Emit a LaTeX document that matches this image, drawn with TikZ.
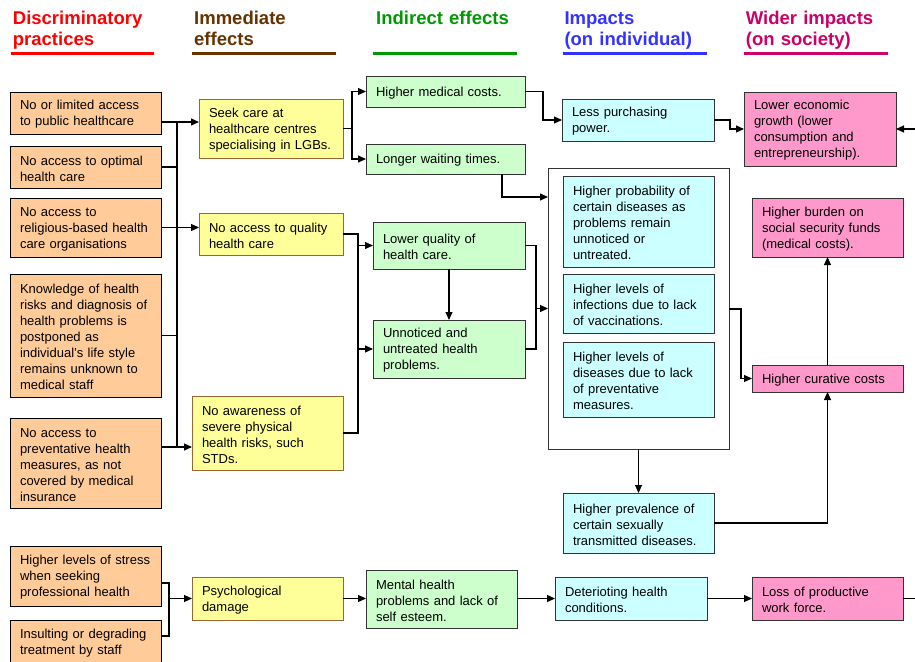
\documentclass[tikz,border=0pt]{standalone}
\usepackage{fontspec}
\setmainfont{Liberation Sans}
\usetikzlibrary{arrows.meta}
\definecolor{cOr}{HTML}{FFCC99}
\definecolor{cYe}{HTML}{FFFF99}
\definecolor{cGr}{HTML}{CCFFCC}
\definecolor{cCy}{HTML}{CCFFFF}
\definecolor{cPk}{HTML}{FF99CC}
\definecolor{cYeB}{HTML}{996633}
\definecolor{cBd}{HTML}{333333}
\definecolor{hRed}{HTML}{FF0000}
\definecolor{hBrown}{HTML}{663300}
\definecolor{hGreen}{HTML}{009900}
\definecolor{hBlue}{HTML}{3333FF}
\definecolor{hMag}{HTML}{CC0066}
\tikzset{
  box/.style={draw=cBd, line width=1pt, inner xsep=10pt, inner ysep=0pt, outer sep=0pt,
    align=left, anchor=north west, font=\fontsize{13}{16}\selectfont, text=black,
    execute at begin node={\rule{0pt}{12.6pt}}},
  orb/.style={box, fill=cOr, draw=black},
  yeb/.style={box, fill=cYe, draw=cYeB},
  grb/.style={box, fill=cGr},
  cyb/.style={box, fill=cCy},
  pkb/.style={box, fill=cPk},
  hdr/.style={anchor=base west, inner sep=0pt, text width=220pt, align=left,
    font=\bfseries\fontsize{18.5}{21}\selectfont},
  uline/.style={line width=3.3pt},
  conn/.style={line width=1.1pt, black},
  arr/.style={conn, -{Triangle[length=8pt,width=7pt]}},
}
\newcommand\bx[7]{\node[#2, text width=#5pt, minimum height=#6pt] (#1) at (#3,#4) {#7};}
\begin{document}
\begin{tikzpicture}[x=1pt,y=-1pt]
\useasboundingbox (0,0) rectangle (915,661);
\fill[white] (0,0) rectangle (915,661);

% headers
\node[hdr, text=hRed] (h1) at (12.7,25) {Discriminatory\\practices};
\draw[uline, hRed] (10.7,53.3) -- (154,53.3);
\node[hdr, text=hBrown] (h2) at (194,25) {Immediate\\effects};
\draw[uline, hBrown] (192,53.3) -- (335.7,53.3);
\node[hdr, text=hGreen] (h3) at (376,25) {Indirect effects};
\draw[uline, hGreen] (373,53.3) -- (517,53.3);
\node[hdr, text=hBlue] (h4) at (564.3,25) {Impacts\\(on individual)};
\draw[uline, hBlue] (563,53.3) -- (706.7,53.3);
\node[hdr, text=hMag] (h5) at (745.7,25) {Wider impacts\\(on society)};
\draw[uline, hMag] (744.3,53.3) -- (888.3,53.3);

% column 1
\bx{A1}{orb}{10}{92}{131}{42}{No or limited access\\to public healthcare}
\bx{A2}{orb}{10}{146}{131}{42}{No access to optimal\\health care}
\bx{A3}{orb}{10}{198}{131}{59}{No access to\\religious-based health\\care organisations}
\bx{A4}{orb}{10}{274}{131}{123}{Knowledge of health\\risks and diagnosis of\\health problems is\\postponed as\\individual’s life style\\remains unknown to\\medical staff}
\bx{A5}{orb}{10}{418}{131}{90}{No access to\\preventative health\\measures, as not\\covered by medical\\insurance}
\bx{A6}{orb}{10}{546}{131}{60}{Higher levels of stress\\when seeking\\professional health}
\bx{A7}{orb}{10}{620}{131}{43}{Insulting or degrading\\treatment by staff}

% column 2
\bx{B1}{yeb}{199}{99}{124}{59}{Seek care at\\healthcare centres\\specialising in LGBs.}
\bx{B2}{yeb}{199}{213}{124}{42}{No access to quality\\health care}
\bx{B3}{yeb}{192}{396}{131}{74}{No awareness of\\severe physical\\health risks, such\\STDs.}
\bx{B4}{yeb}{192}{577}{131}{43}{Psychological\\damage}

% column 3
\bx{C1}{grb}{366}{76}{139}{31}{Higher medical costs.}
\bx{C2}{grb}{366}{144}{139}{30}{Longer waiting times.}
\bx{C3}{grb}{373}{222}{132}{47}{Lower quality of\\health care.}
\bx{C4}{grb}{373}{320}{132}{58}{Unnoticed and\\untreated health\\problems.}
\bx{C5}{grb}{366}{570}{131}{58}{Mental health\\problems and lack of\\self esteem.}

% column 4
\bx{Dp}{cyb}{562}{99}{132}{42}{Less purchasing\\power.}
\node[draw=cBd, fill=white, line width=1pt, anchor=north west, minimum width=181pt, minimum height=281pt, inner sep=0pt, outer sep=0pt] (D0) at (548,168) {};
\bx{D1}{cyb}{563}{176}{131}{91}{Higher probability of\\certain diseases as\\problems remain\\unnoticed or\\untreated.}
\bx{D2}{cyb}{563}{274}{131}{59}{Higher levels of\\infections due to lack\\of vaccinations.}
\bx{D3}{cyb}{563}{342}{131}{75}{Higher levels of\\diseases due to lack\\of preventative\\measures.}
\bx{D4}{cyb}{563}{493}{131}{60}{Higher prevalence of\\certain sexually\\transmitted diseases.}
\bx{D5}{cyb}{555}{577}{132}{43}{Deterioting health\\conditions.}

% column 5
\bx{E1}{pkb}{744}{92}{132}{74}{Lower economic\\growth (lower\\consumption and\\entrepreneurship).}
\bx{E2}{pkb}{752}{198}{131}{59}{Higher burden on\\social security funds\\(medical costs).}
\bx{E3}{pkb}{752}{365}{131}{27}{Higher curative costs}
\bx{E5}{pkb}{752}{577}{131}{43}{Loss of productive\\work force.}

% connectors: column 1 -> column 2
\coordinate (bA) at (177,122);
\coordinate (bA5) at (177,447);
\draw[conn] (bA) -- (bA5);
\draw[conn] (A1.east |- bA) -- (bA);
\draw[arr] (bA) -- (B1.west |- bA);
\draw[conn] (A2.east) -- (A2.east -| bA);
\draw[arr] (A3.east) -- (B2.west |- A3.east);
\draw[conn] (A4.east) -- (A4.east -| bA);
\draw[conn] (A5.east |- bA5) -- (bA5);
\draw[arr] (bA5) -- (B3.west |- bA5);

% column 2 -> column 3
\draw[arr] (B1.east) -- ++(9,0) |- (C1.west);
\draw[arr] (B1.east) -- ++(9,0) |- (C2.west);
\coordinate (j2) at (358,0);
\draw[conn] (B2.east) -| (j2 |- B3.east) -- (B3.east);
\draw[arr] (j2 |- C3.west) -- (C3.west);
\draw[arr] (j2 |- C4.west) -- (C4.west);
\draw[arr] (C3.south) -- (C4.north);

% column 3 -> column 4
\coordinate (j3) at (536,0);
\draw[conn] (C3.east) -| (j3 |- C4.east) -- (C4.east);
\draw[arr] (j3 |- D0.west) -- (D0.west);
\coordinate (k1) at (502,197);
\draw[arr] (C2.south -| k1) -- (k1) -- (D0.west |- k1);
\draw[arr] (C1.east) -- ++(18,0) |- (Dp.west);
\draw[arr] (D0.south) -- (D4.north);

% column 4 -> column 5
\draw[arr] (Dp.east) -- ++(16,0) |- (E1.west);
\draw[arr] (D0.east |- 0,309) -- ++(12,0) |- (E3.west);
\draw[arr] (E3.north) -- (E2.south);
\draw[arr] (D4.east) -| (E3.south);
\coordinate (rt) at (925,129);
\draw[arr] (E5.east) -| (rt) -- (E1.east);

% bottom row
\coordinate (j6) at (169,583);
\coordinate (j7) at (169,636);
\draw[conn] (A6.east |- j6) -- (j6) -- (j7) -- (A7.east |- j7);
\draw[arr] (j6 |- B4.west) -- (B4.west);
\draw[arr] (B4.east) -- (C5.west |- B4.east);
\draw[arr] (C5.east |- D5.west) -- (D5.west);
\draw[arr] (D5.east) -- (E5.west);
\end{tikzpicture}
\end{document}
